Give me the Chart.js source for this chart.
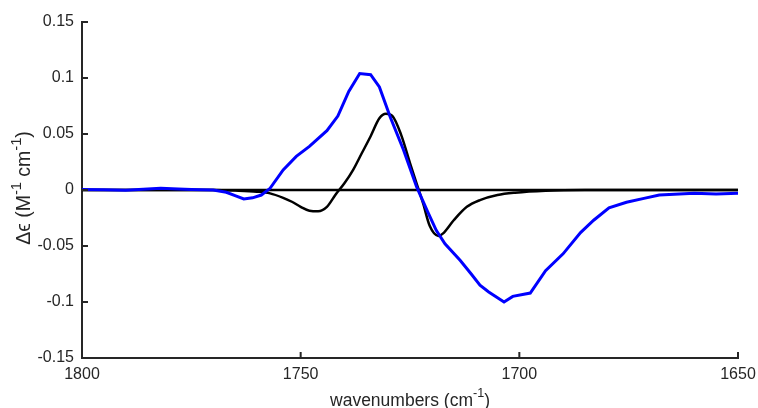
<!DOCTYPE html>
<html><head><meta charset="utf-8">
<script src="https://cdn.jsdelivr.net/npm/chart.js@4.4.1/dist/chart.umd.min.js"></script>
<style>html,body{margin:0;padding:0;background:#fff}#wrap{width:758px;height:408px}</style>
</head><body><div id="wrap"><canvas id="c" width="758" height="408"></canvas></div>
<script>
// ---- data ----
const blackX = [1800,1770,1765,1760,1757,1754,1752,1750,1748,1746,1744,1742,1740,1738,1736,1734,1732,1730.5,1729,1727,1725,1723.5,1722,1720.5,1718.5,1717.5,1715,1712,1709,1705,1701,1694,1685,1650];
const blackY = [0,0,-0.0005,-0.0015,-0.003,-0.007,-0.0105,-0.015,-0.0185,-0.019,-0.015,-0.004,0.006,0.018,0.033,0.048,0.064,0.068,0.066,0.049,0.024,0.006,-0.012,-0.032,-0.041,-0.039,-0.027,-0.015,-0.009,-0.0045,-0.0024,-0.0006,0,0];
const blueX = [1800,1795,1790,1785,1782,1778,1775,1770,1767,1765,1763,1761,1759,1757,1754,1751,1748,1744,1741.5,1739,1736.5,1734,1732,1729.5,1726.5,1723.5,1721,1719,1717,1713.5,1711,1709,1707,1703.5,1701.5,1697.5,1694,1690,1686,1683,1679.5,1675.5,1671.5,1668,1660,1655,1650];
const blueY = [0.0005,0.0003,-0.0002,0.0008,0.0015,0.001,0.0005,0,-0.002,-0.005,-0.008,-0.007,-0.0045,0.0015,0.018,0.03,0.039,0.053,0.066,0.088,0.104,0.103,0.092,0.065,0.036,0.003,-0.019,-0.036,-0.048,-0.063,-0.075,-0.085,-0.091,-0.1,-0.095,-0.092,-0.072,-0.057,-0.038,-0.027,-0.016,-0.011,-0.0075,-0.0045,-0.003,-0.0035,-0.003];
const baseX = [1800,1650];
const baseY = [0,0];
const xTicks = [1800,1750,1700,1650];
const yTicks = [-0.15,-0.1,-0.05,0,0.05,0.1,0.15];

const toPts = (xs, ys) => xs.map((x,i)=>({x:x, y:ys[i]}));
const AX = '#262626';
const FONT = '"Liberation Sans", Arial, Helvetica, sans-serif';

const inwardTicks = {
  id:'inwardTicks',
  afterDraw(chart){
    const {ctx, chartArea:a, scales:{x,y}} = chart;
    ctx.save();
    ctx.strokeStyle = AX; ctx.lineWidth = 2;
    ctx.beginPath();
    x.ticks.forEach(t=>{const px=x.getPixelForValue(t.value); ctx.moveTo(px,a.bottom); ctx.lineTo(px,a.bottom-6);});
    y.ticks.forEach(t=>{const py=y.getPixelForValue(t.value); ctx.moveTo(a.left,py); ctx.lineTo(a.left+6,py);});
    ctx.stroke();
    ctx.restore();
  }
};

function drawRich(ctx, parts, size, supScale){
  let w = 0;
  parts.forEach(p=>{ctx.font = (p.sup? size*supScale : size)+'px '+FONT; w += ctx.measureText(p.t).width;});
  let cx = -w/2;
  parts.forEach(p=>{
    const s = p.sup? size*supScale : size;
    ctx.font = s+'px '+FONT;
    ctx.fillText(p.t, cx, p.sup? -size*0.4 : 0);
    cx += ctx.measureText(p.t).width;
  });
}

const titles = {
  id:'titles',
  afterDraw(chart){
    const {ctx, chartArea:a} = chart;
    ctx.save();
    ctx.fillStyle = AX; ctx.textBaseline = 'middle'; ctx.textAlign = 'left';
    ctx.save();
    ctx.translate((a.left+a.right)/2, 401);
    drawRich(ctx, [{t:'wavenumbers (cm'},{t:'-1',sup:true},{t:')'}], 17.5, 0.72);
    ctx.restore();
    ctx.save();
    ctx.translate(25, 188);
    ctx.rotate(-Math.PI/2);
    drawRich(ctx, [{t:'\u0394\u03F5 (M'},{t:'-1',sup:true},{t:' cm'},{t:'-1',sup:true},{t:')'}], 19.5, 0.75);
    ctx.restore();
    ctx.restore();
  }
};

new Chart(document.getElementById('c'), {
  type:'line',
  data:{datasets:[
    {label:'blue', data:toPts(blueX,blueY), borderColor:'#0000ff', borderWidth:3, pointRadius:0, tension:0, order:0},
    {label:'black', data:toPts(blackX,blackY), borderColor:'#000000', borderWidth:2.5, pointRadius:0, cubicInterpolationMode:'monotone', order:1},
    {label:'zero', data:toPts(baseX,baseY), borderColor:'#000000', borderWidth:2.5, pointRadius:0, order:2}
  ]},
  options:{
    responsive:false, animation:false, devicePixelRatio:1,
    layout:{padding:{left:0,right:20,top:22,bottom:0}},
    plugins:{legend:{display:false}, tooltip:{enabled:false}},
    scales:{
      x:{type:'linear', reverse:true, min:1650, max:1800,
        afterBuildTicks:s=>{s.ticks = xTicks.map(v=>({value:v}));},
        afterFit:s=>{s.height=50; s.paddingLeft=0; s.paddingRight=0;},
        ticks:{color:AX, font:{family:FONT,size:16}, padding:7, maxRotation:0, autoSkip:false, callback:v=>String(v)},
        grid:{display:false, drawTicks:false},
        border:{display:true, color:AX, width:2}},
      y:{type:'linear', min:-0.15, max:0.15,
        afterBuildTicks:s=>{s.ticks = yTicks.map(v=>({value:v}));},
        afterFit:s=>{s.width=82; s.paddingTop=0; s.paddingBottom=0;},
        ticks:{color:AX, font:{family:FONT,size:16}, padding:8, autoSkip:false, callback:v=>String(Math.round(v*100)/100)},
        grid:{display:false, drawTicks:false},
        border:{display:true, color:AX, width:2}}
    }
  },
  plugins:[inwardTicks, titles]
});
</script></body></html>
